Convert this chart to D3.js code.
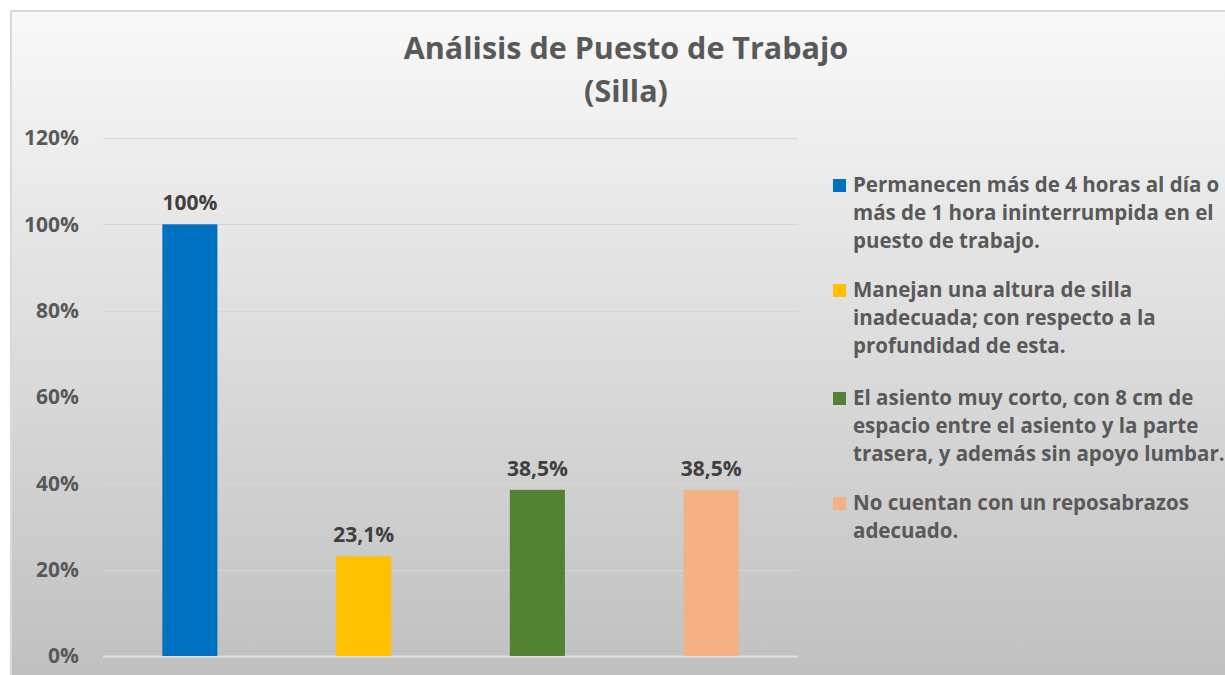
<!DOCTYPE html>
<html>
<head>
<meta charset="utf-8">
<script src="https://cdn.jsdelivr.net/npm/d3@7"></script>
<style>
  html, body { margin: 0; padding: 0; background: #ffffff; }
  svg { display: block; }
  text { font-family: "Open Sans", "Noto Sans", sans-serif; font-weight: bold; }
</style>
</head>
<body>
<svg id="chart" width="1225" height="675"></svg>
<script>
// ---- data ----
const categories = [
  "Permanecen más de 4 horas al día o más de 1 hora ininterrumpida en el puesto de trabajo.",
  "Manejan una altura de silla inadecuada; con respecto a la profundidad de esta.",
  "El asiento muy corto, con 8 cm de espacio entre el asiento y la parte trasera, y además sin apoyo lumbar.",
  "No cuentan con un reposabrazos adecuado."
];
const legendLines = [
  ["Permanecen más de 4 horas al día o", "más de 1 hora ininterrumpida en el", "puesto de trabajo."],
  ["Manejan una altura de silla", "inadecuada; con respecto a la", "profundidad de esta."],
  ["El asiento muy corto, con 8 cm de", "espacio entre el asiento y la parte", "trasera, y además sin apoyo lumbar."],
  ["No cuentan con un reposabrazos", "adecuado."]
];
const values = [1.00, 0.231, 0.385, 0.385];
const valueLabels = ["100%", "23,1%", "38,5%", "38,5%"];
const colors = ["#0070C0", "#FFC000", "#548235", "#F4B183"];
const yTicks = [0, 0.2, 0.4, 0.6, 0.8, 1.0, 1.2];
const yTickLabels = ["0%", "20%", "40%", "60%", "80%", "100%", "120%"];
const titleLines = ["Análisis de Puesto de Trabajo", "(Silla)"];

// ---- layout ----
const svg = d3.select("#chart");
const W = 1225, H = 675;
const plot = { left: 103, right: 798, top: 138, bottom: 656 };

const defs = svg.append("defs");
const grad = defs.append("linearGradient").attr("id", "bg").attr("x1", 0).attr("y1", 0).attr("x2", 0).attr("y2", 1);
grad.append("stop").attr("offset", "0%").attr("stop-color", "#f9f9f9");
grad.append("stop").attr("offset", "100%").attr("stop-color", "#bfbfbf");

svg.append("rect").attr("x", 11).attr("y", 11).attr("width", W).attr("height", H)
  .attr("fill", "url(#bg)").attr("stroke", "#d9d9d9").attr("stroke-width", 2);

const x = d3.scaleBand().domain(d3.range(categories.length))
  .range([plot.left, plot.right]).paddingInner(0.683).paddingOuter(0.3415);
const y = d3.scaleLinear().domain([0, 1.2]).range([plot.bottom, plot.top]);

// gridlines
svg.append("g").selectAll("line").data(yTicks).join("line")
  .attr("x1", plot.left).attr("x2", plot.right)
  .attr("y1", d => Math.round(y(d)) + 0.5).attr("y2", d => Math.round(y(d)) + 0.5)
  .attr("stroke", d => d === 0 ? "#e0e0e0" : "#d6d6d6").attr("stroke-width", d => d === 0 ? 2 : 1);

// y axis labels
const yAxis = d3.axisLeft(y).tickValues(yTicks).tickSize(0).tickPadding(0)
  .tickFormat((d, i) => yTickLabels[i]);
const ya = svg.append("g").attr("transform", `translate(79,0)`).call(yAxis);
ya.attr("font-size", null).attr("font-family", null);
ya.select(".domain").remove();
ya.selectAll("text").attr("fill", "#595959").style("font-size", "21px")
  .style("font-family", "'Open Sans', sans-serif").style("font-weight", "bold");

// bars
svg.append("g").selectAll("rect").data(values).join("rect")
  .attr("x", (d, i) => x(i)).attr("width", x.bandwidth())
  .attr("y", d => y(d)).attr("height", d => y(0) - y(d))
  .attr("fill", (d, i) => colors[i]);

// value labels
svg.append("g").selectAll("text").data(values).join("text")
  .attr("x", (d, i) => x(i) + x.bandwidth() / 2).attr("y", d => y(d) - 14)
  .attr("text-anchor", "middle").attr("fill", "#404040").style("font-size", "21px")
  .text((d, i) => valueLabels[i]);

// title
svg.append("g").selectAll("text").data(titleLines).join("text")
  .attr("x", 626).attr("y", (d, i) => 59 + i * 43)
  .attr("text-anchor", "middle").attr("fill", "#595959").style("font-size", "30.5px")
  .text(d => d);

// legend
const legendTop = [185, 290, 398, 503];
const lg = svg.append("g");
categories.forEach((c, i) => {
  const g = lg.append("g");
  g.append("rect").attr("x", 833).attr("y", legendTop[i] - 6).attr("width", 13).attr("height", 13)
    .attr("fill", colors[i]);
  g.append("text").attr("fill", "#595959").style("font-size", "20.5px")
    .selectAll("tspan").data(legendLines[i]).join("tspan")
    .attr("x", 853).attr("y", (d, j) => legendTop[i] + 7 + j * 28).text(d => d);
});
</script>
</body>
</html>
